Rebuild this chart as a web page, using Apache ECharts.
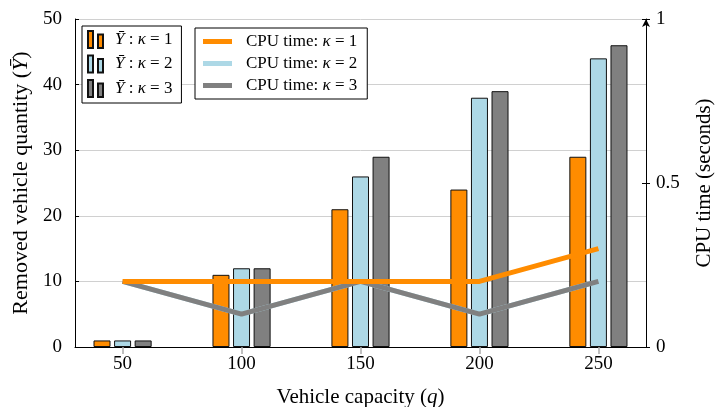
<!DOCTYPE html>
<html>
<head>
<meta charset="utf-8">
<script src="https://cdn.jsdelivr.net/npm/echarts@6/dist/echarts.min.js"></script>
<style>html,body{margin:0;padding:0;background:#fff}#c{width:717px;height:407px}</style>
</head>
<body>
<div id="c"></div>
<script>
const capacities = [50, 100, 150, 200, 250];
const yBarK1 = [1, 11, 21, 24, 29];
const yBarK2 = [1, 12, 26, 38, 44];
const yBarK3 = [1, 12, 29, 39, 46];
const cpuK1 = [0.2, 0.2, 0.2, 0.2, 0.3];
const cpuK2 = [0.2, 0.1, 0.2, 0.1, 0.2];
const cpuK3 = [0.2, 0.1, 0.2, 0.1, 0.2];
const leftTicks = [0, 10, 20, 30, 40, 50];
const rightTicks = [0, 0.5, 1];

const FONT = 'Liberation Serif';
const ORANGE = '#FF8C00', LBLUE = '#ADD8E6', GRAY = '#808080';
const pairs = (vals) => capacities.map((x, i) => [x, vals[i]]);

const barNames = ['Ybar k1', 'Ybar k2', 'Ybar k3'];
const lineNames = ['CPU k1', 'CPU k2', 'CPU k3'];
const kOf = {'Ybar k1':1,'Ybar k2':2,'Ybar k3':3,'CPU k1':1,'CPU k2':2,'CPU k3':3};

const LF = 17;
const richBase = {
  s: {width: 7, fontFamily: FONT, fontSize: LF},
  s2: {width: 9, fontFamily: FONT, fontSize: LF},
  t: {fontFamily: FONT, fontSize: LF, color: '#000'},
  i: {fontFamily: FONT, fontSize: LF, fontStyle: 'italic', color: '#000'}
};

function barSeries(name, vals, color) {
  return {
    name, type: 'bar', xAxisIndex: 0, yAxisIndex: 0,
    data: pairs(vals), barWidth: 17, barGap: '21%',
    itemStyle: {color, borderColor: '#111', borderWidth: 1},
    z: 2
  };
}
function lineSeries(name, vals, color, z) {
  return {
    name, type: 'line', xAxisIndex: 0, yAxisIndex: 1,
    data: pairs(vals), showSymbol: false, symbol: 'none',
    lineStyle: {color, width: 5}, itemStyle: {color},
    z
  };
}

const option = {
  animation: false,
  backgroundColor: '#fff',
  textStyle: {fontFamily: FONT},
  grid: {left: 75, right: 71, top: 19, bottom: 60, containLabel: false, outerBoundsMode: 'none'},
  legend: [
    {
      data: barNames, orient: 'vertical', left: 82, top: 26,
      borderColor: '#000', borderWidth: 1, backgroundColor: '#fff',
      padding: [4, 9, 5, 5], itemGap: 5.5, itemWidth: 15, itemHeight: 17,
      icon: 'path://M0,0H5V17H0Z M10,3.5H15V17H10Z',
      formatter: n => '{s|}{i|Ȳ}{t| : }{i|κ}{t| = ' + kOf[n] + '}',
      textStyle: {rich: richBase}
    },
    {
      data: lineNames, orient: 'vertical', left: 195, top: 28,
      borderColor: '#000', borderWidth: 1, backgroundColor: '#fff',
      padding: [5, 10, 5, 8], itemGap: 5, itemWidth: 29, itemHeight: 5,
      icon: 'rect',
      formatter: n => '{s2|}{t|CPU time: }{i|κ}{t| = ' + kOf[n] + '}',
      textStyle: {rich: richBase}
    }
  ],
  xAxis: {
    type: 'value', min: 30, max: 270,
    name: 'Vehicle capacity ({i|q})', nameLocation: 'middle', nameGap: 40,
    nameTextStyle: {fontFamily: FONT, fontSize: 21, color: '#000',
      rich: {i: {fontFamily: FONT, fontSize: 21, fontStyle: 'italic', color: '#000'}}},
    axisLine: {show: true, lineStyle: {color: '#000', width: 1}},
    axisTick: {show: true, customValues: capacities, length: 7, inside: false, lineStyle: {color: '#aaa', width: 1.5}},
    axisLabel: {customValues: capacities, fontFamily: FONT, fontSize: 19, color: '#000', margin: 8},
    splitLine: {show: false}
  },
  yAxis: [
    {
      type: 'value', min: 0, max: 50, interval: 10, position: 'left',
      name: 'Removed vehicle quantity ({i|Ȳ})', nameLocation: 'middle', nameGap: 42,
      nameTextStyle: {fontFamily: FONT, fontSize: 22, color: '#000',
        rich: {i: {fontFamily: FONT, fontSize: 22, fontStyle: 'italic', color: '#000'}}},
      axisLine: {show: true, lineStyle: {color: '#000', width: 1}},
      axisTick: {show: true, inside: true, length: 4, lineStyle: {color: '#000'}},
      axisLabel: {fontFamily: FONT, fontSize: 19, color: '#000', margin: 13,
        customValues: leftTicks},
      splitLine: {show: true, lineStyle: {color: '#d0d0d0', width: 1}}
    },
    {
      type: 'value', min: 0, max: 1, interval: 0.5, position: 'right',
      name: 'CPU time (seconds)', nameLocation: 'middle', nameGap: 48,
      nameTextStyle: {fontFamily: FONT, fontSize: 21, color: '#000'},
      axisLine: {show: true, lineStyle: {color: '#000', width: 1}, symbol: ['none', 'arrow'], symbolSize: [6, 8]},
      axisTick: {show: true, inside: false, length: 4, lineStyle: {color: '#000'}},
      axisLabel: {fontFamily: FONT, fontSize: 19, color: '#000', margin: 10,
        customValues: rightTicks},
      splitLine: {show: false}
    },
    {
      type: 'value', min: 0, max: 1, interval: 0.5, position: 'right',
      axisLine: {show: false},
      axisTick: {show: true, inside: true, length: 4, lineStyle: {color: '#000'}},
      axisLabel: {show: false},
      splitLine: {show: false}
    }
  ],
  series: [
    barSeries(barNames[0], yBarK1, ORANGE),
    barSeries(barNames[1], yBarK2, LBLUE),
    barSeries(barNames[2], yBarK3, GRAY),
    lineSeries(lineNames[1], cpuK2, LBLUE, 3),
    lineSeries(lineNames[2], cpuK3, GRAY, 4),
    lineSeries(lineNames[0], cpuK1, ORANGE, 5)
  ]
};

const chart = echarts.init(document.getElementById('c'), null, {renderer: 'canvas'});
chart.setOption(option);
</script>
</body>
</html>
